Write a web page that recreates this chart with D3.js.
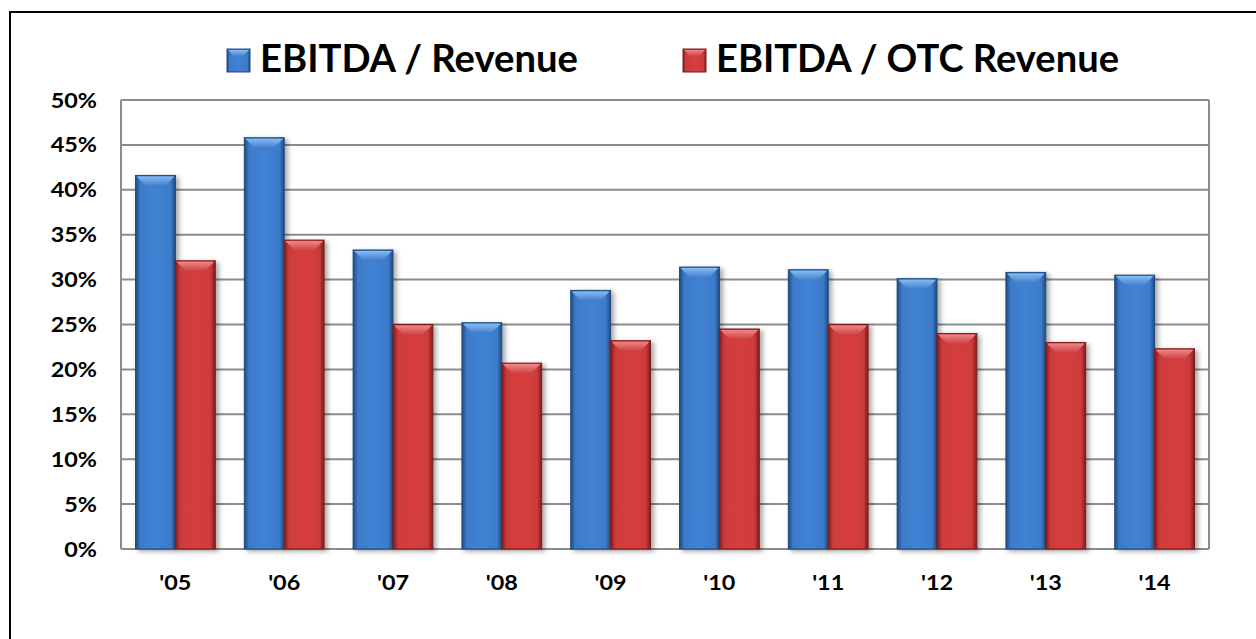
<!DOCTYPE html>
<html>
<head>
<meta charset="utf-8">
<script src="https://cdn.jsdelivr.net/npm/d3@7"></script>
<style>
  html, body { margin: 0; background: #fff; overflow: hidden; }
  svg { display: block; }
  svg text { font-family: Lato, "Open Sans", sans-serif; font-weight: bold; fill: #000; }
</style>
</head>
<body>
<div id="chart"></div>
<script>
// Chart values.
var years = ["'05", "'06", "'07", "'08", "'09", "'10", "'11", "'12", "'13", "'14"];
var series_names = ["EBITDA / Revenue", "EBITDA / OTC Revenue"];
var ebitda_revenue = [0.416, 0.458, 0.333, 0.252, 0.288, 0.314, 0.311, 0.301, 0.308, 0.305];
var ebitda_otc_revenue = [0.321, 0.344, 0.250, 0.207, 0.232, 0.245, 0.250, 0.240, 0.230, 0.223];
var y_ticks = [0, 0.05, 0.10, 0.15, 0.20, 0.25, 0.30, 0.35, 0.40, 0.45, 0.50];

var width = 1256, height = 639;
var plot = {left: 121, right: 1209, top: 100, bottom: 549};
// The original text is a little wider than the fonts we have.
var text_stretch = 1.17;

// Colours for each series: main, light (bevel), dark (edges).
var palette = [
    {main: "#3d7bc9", light: "#86bbf2", dark: "#1f4a80"},
    {main: "#cc3b3b", light: "#f08686", dark: "#7d1c1c"}
];

var svg = d3.select("#chart").append("svg")
    .attr("width", width)
    .attr("height", height);

var defs = svg.append("defs");
palette.forEach(function(p, i)
{
    var g = defs.append("linearGradient")
        .attr("id", "grad" + i)
        .attr("x1", "0").attr("x2", "1").attr("y1", "0").attr("y2", "0");
    g.append("stop").attr("offset", "0%").attr("stop-color", p.dark);
    g.append("stop").attr("offset", "12%").attr("stop-color", p.main);
    g.append("stop").attr("offset", "50%").attr("stop-color", d3.color(p.main).brighter(0.15));
    g.append("stop").attr("offset", "88%").attr("stop-color", p.main);
    g.append("stop").attr("offset", "100%").attr("stop-color", p.dark);

    var t = defs.append("linearGradient")
        .attr("id", "top" + i)
        .attr("x1", "0").attr("x2", "0").attr("y1", "0").attr("y2", "1");
    t.append("stop").attr("offset", "0%").attr("stop-color", p.light);
    t.append("stop").attr("offset", "100%").attr("stop-color", p.main);
});
var shadow = defs.append("filter").attr("id", "shadow")
    .attr("x", "-20%").attr("y", "-5%").attr("width", "150%").attr("height", "115%");
shadow.append("feDropShadow")
    .attr("dx", 3).attr("dy", 2).attr("stdDeviation", 2.5)
    .attr("flood-color", "#000").attr("flood-opacity", 0.35);

// Outer frame: only the top and left edges are inside the picture.
svg.append("path")
    .attr("d", "M10," + height + "L10,12L" + width + ",12")
    .attr("fill", "none")
    .attr("stroke", "#000")
    .attr("stroke-width", 2);

var x0 = d3.scaleBand()
    .domain(years)
    .range([plot.left, plot.right])
    .paddingInner(0.267)
    .paddingOuter(0.1335);
var x1 = d3.scaleBand()
    .domain([0, 1])
    .range([0, x0.bandwidth()]);
var y = d3.scaleLinear()
    .domain([0, 0.5])
    .range([plot.bottom, plot.top]);

// Gridlines.
svg.append("g")
    .selectAll("line")
    .data(y_ticks)
    .enter().append("line")
    .attr("x1", plot.left).attr("x2", plot.right)
    .attr("y1", function(d) { return y(d); })
    .attr("y2", function(d) { return y(d); })
    .attr("stroke", "#8c8c8c")
    .attr("stroke-width", 2);
svg.append("line")
    .attr("x1", plot.left).attr("x2", plot.left)
    .attr("y1", plot.top).attr("y2", plot.bottom)
    .attr("stroke", "#8c8c8c").attr("stroke-width", 2);
svg.append("line")
    .attr("x1", plot.right).attr("x2", plot.right)
    .attr("y1", plot.top).attr("y2", plot.bottom)
    .attr("stroke", "#8c8c8c").attr("stroke-width", 2);

function stretch(sel)
{
    sel.each(function()
    {
        var len = this.getComputedTextLength();
        d3.select(this)
            .attr("textLength", len * text_stretch)
            .attr("lengthAdjust", "spacingAndGlyphs");
    });
}

// Y axis labels.
var yAxis = d3.axisLeft(y)
    .tickValues(y_ticks)
    .tickFormat(d3.format(".0%"))
    .tickSize(0)
    .tickPadding(24);
var ya = svg.append("g")
    .attr("transform", "translate(" + plot.left + ",0)")
    .call(yAxis);
ya.select(".domain").remove();
ya.selectAll("text")
    .style("font-size", "20px")
    .attr("dy", "0.35em")
    .call(stretch);

// X axis labels.
var xAxis = d3.axisBottom(x0).tickSize(0).tickPadding(27);
var xa = svg.append("g")
    .attr("transform", "translate(0," + plot.bottom + ")")
    .call(xAxis);
xa.select(".domain").remove();
xa.selectAll("text")
    .style("font-size", "20px")
    .call(stretch);

// Bars.
var rows = years.map(function(yr, i)
{
    return {year: yr, values: [ebitda_revenue[i], ebitda_otc_revenue[i]]};
});
var group = svg.append("g")
    .selectAll("g")
    .data(rows)
    .enter().append("g")
    .attr("transform", function(d) { return "translate(" + x0(d.year) + ",0)"; });

var bar = group.selectAll("g")
    .data(function(d) { return d.values.map(function(v, s) { return {value: v, series: s}; }); })
    .enter().append("g");

var bw = x1.bandwidth();
bar.append("rect")
    .attr("x", function(d) { return x1(d.series); })
    .attr("y", function(d) { return y(d.value); })
    .attr("width", bw)
    .attr("height", function(d) { return y(0) - y(d.value); })
    .attr("fill", function(d) { return "url(#grad" + d.series + ")"; })
    .attr("stroke", function(d) { return palette[d.series].dark; })
    .attr("stroke-width", 1)
    .attr("filter", "url(#shadow)");

// Bevelled top of each bar.
var bevel = 11, inset = 11;
bar.append("path")
    .attr("d", function(d)
    {
        var xl = x1(d.series), xr = xl + bw, yt = y(d.value);
        return "M" + (xl + 1) + "," + (yt + 1) +
               "L" + (xr - 1) + "," + (yt + 1) +
               "L" + (xr - inset) + "," + (yt + bevel) +
               "L" + (xl + inset) + "," + (yt + bevel) + "Z";
    })
    .attr("fill", function(d) { return "url(#top" + d.series + ")"; });

// Legend.
var legend_x = [227, 683];
var legend_w = [318, 403];
var legend = svg.append("g")
    .selectAll("g")
    .data(series_names)
    .enter().append("g")
    .attr("transform", function(d, i) { return "translate(" + legend_x[i] + ",49)"; });
legend.append("rect")
    .attr("width", 23).attr("height", 23)
    .attr("fill", function(d, i) { return "url(#grad" + i + ")"; })
    .attr("stroke", function(d, i) { return palette[i].dark; });
legend.append("path")
    .attr("d", "M1,1L22,1L15,8L8,8Z")
    .attr("fill", function(d, i) { return "url(#top" + i + ")"; });
legend.append("text")
    .attr("x", 33)
    .attr("y", 23)
    .style("font-size", "38px")
    .attr("textLength", function(d, i) { return legend_w[i]; })
    .attr("lengthAdjust", "spacingAndGlyphs")
    .text(function(d) { return d; });
</script>
</body>
</html>
